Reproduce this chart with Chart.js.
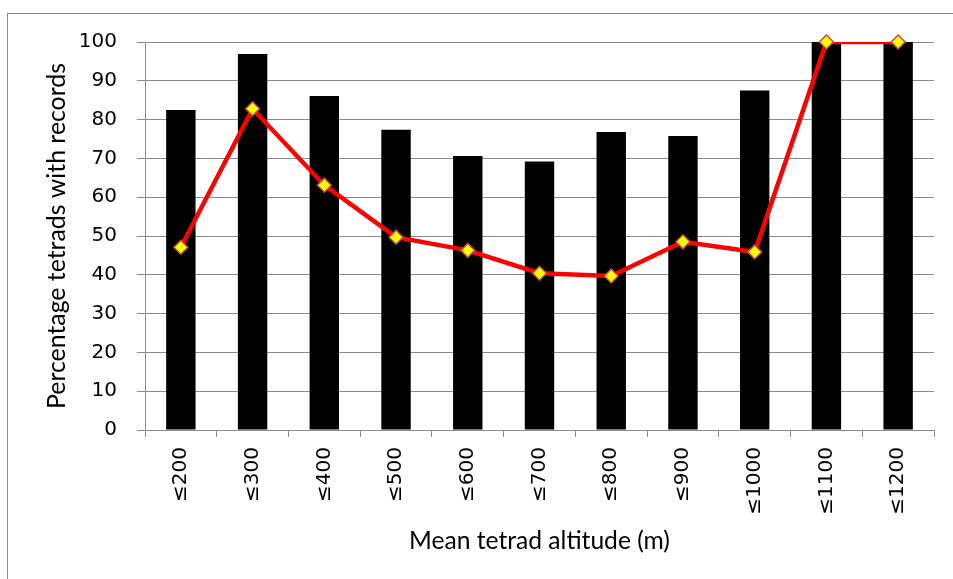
<!DOCTYPE html>
<html>
<head>
<meta charset="utf-8">
<script src="https://cdn.jsdelivr.net/npm/chart.js@4/dist/chart.umd.min.js"></script>
<style>
  html, body { margin: 0; padding: 0; background: #fff; overflow: hidden; }
  #frame { position: absolute; left: 7px; top: 13px; width: 980px; height: 600px; border: 1px solid #8c8c8c; box-sizing: border-box; }
  #wrap { position: absolute; left: 0; top: 0; width: 953px; height: 579px; }
</style>
</head>
<body>
<div id="frame"></div>
<div id="wrap"><canvas id="c" width="953" height="579"></canvas></div>
<script>
const categories = ["≤200","≤300","≤400","≤500","≤600","≤700","≤800","≤900","≤1000","≤1100","≤1200"];
const barValues  = [82.5, 96.9, 86.1, 77.4, 70.6, 69.2, 76.8, 75.8, 87.5, 100, 100];
const lineValues = [47.1, 82.8, 63.1, 49.7, 46.3, 40.4, 39.7, 48.5, 45.9, 100, 100];
const yTicks = [0,10,20,30,40,50,60,70,80,90,100];
const xTitle = 'Mean tetrad altitude (m)';
const yTitle = 'Percentage tetrads with records';

const TITLE_FONT = "Lato, 'Open Sans', sans-serif";
const TICK_FONT = "'DejaVu Sans', sans-serif";

// fit a font size so the text spans a target width (style only)
function fitSize(text, family, target) {
  const ctx = document.createElement('canvas').getContext('2d');
  ctx.font = '100px ' + family;
  return 100 * target / ctx.measureText(text).width;
}
const xTitleSize = fitSize(xTitle, TITLE_FONT, 261);
const yTitleSize = fitSize(yTitle, TITLE_FONT, 346);

new Chart(document.getElementById('c'), {
  data: {
    labels: categories,
    datasets: [
      {
        type: 'line',
        data: lineValues,
        borderColor: '#ff0000',
        borderWidth: 4.5,
        pointRadius: 0,
        pointHoverRadius: 0,
        tension: 0,
        clip: 0,
        order: 1
      },
      {
        type: 'line',
        data: lineValues,
        showLine: false,
        pointStyle: 'rectRot',
        pointRadius: 7,
        pointHoverRadius: 7,
        pointBackgroundColor: '#ffff00',
        pointBorderColor: '#be4b48',
        pointBorderWidth: 1.5,
        clip: false,
        order: 0
      },
      {
        type: 'bar',
        data: barValues,
        backgroundColor: '#000000',
        borderWidth: 0,
        barPercentage: 0.41,
        categoryPercentage: 1,
        order: 2
      }
    ]
  },
  options: {
    responsive: false,
    animation: false,
    events: [],
    layout: { padding: { top: 42, right: 19, left: 0, bottom: 0 } },
    plugins: { legend: { display: false }, tooltip: { enabled: false } },
    scales: {
      x: {
        offset: true,
        grid: { display: true, drawOnChartArea: false, offset: true, color: '#8c8c8c', tickLength: 7, lineWidth: 1 },
        border: { display: true, color: '#8c8c8c', width: 1 },
        ticks: { minRotation: 90, maxRotation: 90, padding: 10, color: '#000', font: { family: TICK_FONT, size: 20 } },
        title: { display: true, text: xTitle, color: '#000', font: { family: TITLE_FONT, size: xTitleSize }, padding: { top: 0, bottom: 38 - 0.6 * xTitleSize } },
        afterFit: (s) => { s.height = 149; }
      },
      y: {
        min: 0, max: 100,
        afterBuildTicks: (s) => { s.ticks = yTicks.map(v => ({ value: v })); },
        grid: { color: '#8c8c8c', tickLength: 8, lineWidth: 1 },
        border: { display: true, color: '#8c8c8c', width: 1 },
        ticks: { padding: 20, color: '#000', font: { family: TICK_FONT, size: 20 } },
        title: { display: true, text: yTitle, color: '#000', font: { family: TITLE_FONT, size: yTitleSize }, padding: { top: 57 - 0.6 * yTitleSize, bottom: 0 } },
        afterFit: (s) => { s.width = 145; }
      }
    }
  }
});
</script>
</body>
</html>
